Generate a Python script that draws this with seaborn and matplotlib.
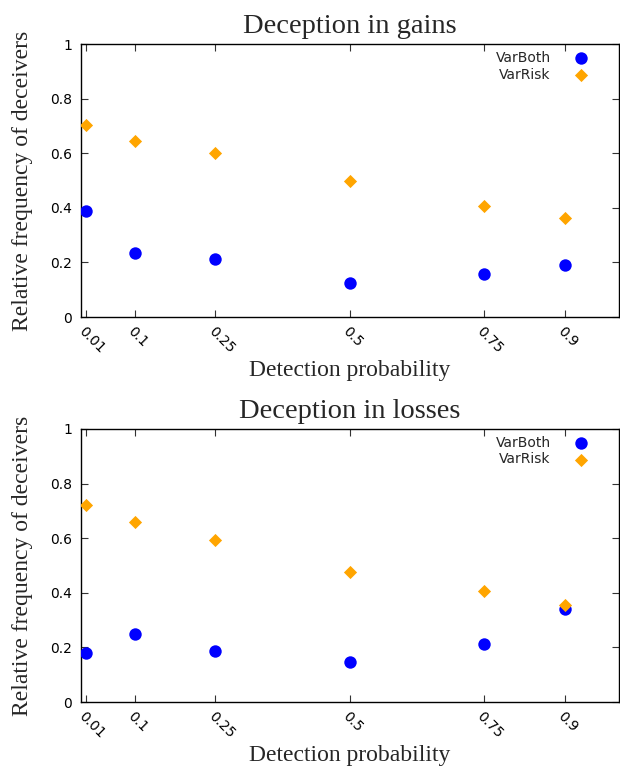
import numpy as np
import pandas as pd
import seaborn as sns
import matplotlib
matplotlib.use("Agg")
import matplotlib.pyplot as plt

# detection probabilities (x) and relative frequency of deceivers
detection = [0.01, 0.1, 0.25, 0.5, 0.75, 0.9]
gains_varboth = [0.387, 0.235, 0.211, 0.125, 0.159, 0.190]
gains_varrisk = [0.702, 0.646, 0.602, 0.500, 0.407, 0.364]
losses_varboth = [0.179, 0.248, 0.187, 0.147, 0.212, 0.342]
losses_varrisk = [0.720, 0.661, 0.592, 0.475, 0.405, 0.357]

tick_labels = ["0.01", "0.1", "0.25", "0.5", "0.75", "0.9"]
titles = ["Deception in gains", "Deception in losses"]

sns.set_style("ticks")
plt.rcParams['font.family'] = ['DejaVu Sans']

palette = {"VarBoth": "#0000ff", "VarRisk": "#ffa500"}
markers = {"VarBoth": "o", "VarRisk": "D"}
sizes = {"VarBoth": 80, "VarRisk": 45}

fig = plt.figure(figsize=(6.2, 7.67), dpi=100)
ax1 = fig.add_axes([0.1306, 0.5867, 0.8674, 0.3559])
ax2 = fig.add_axes([0.1306, 0.0847, 0.8674, 0.3560])

panels = [(ax1, gains_varboth, gains_varrisk), (ax2, losses_varboth, losses_varrisk)]

for (ax, vb, vr), title in zip(panels, titles):
    df = pd.DataFrame({"x": detection, "VarBoth": vb, "VarRisk": vr})
    df = df.melt(id_vars="x", var_name="series", value_name="y")
    for name in ["VarBoth", "VarRisk"]:
        sub = df[df["series"] == name]
        sns.scatterplot(data=sub, x="x", y="y", ax=ax, color=palette[name],
                        marker=markers[name], s=sizes[name], linewidth=0,
                        label=name, zorder=3)

    ax.set_xlim(0, 1)
    ax.set_ylim(0, 1)
    ax.set_xticks(detection)
    ax.set_xticklabels(tick_labels, rotation=-45, ha="left", va="top",
                       rotation_mode="anchor", fontsize=10)
    ax.set_yticks([0, 0.2, 0.4, 0.6, 0.8, 1])
    ax.set_yticklabels(["0", "0.2", "0.4", "0.6", "0.8", "1"], fontsize=10)
    ax.tick_params(direction="in", top=True, right=True, length=5, width=0.8,
                   colors="#333333", labelcolor="black")
    ax.tick_params(axis="y", pad=6.5)
    ax.tick_params(axis="x", pad=5)
    for sp in ax.spines.values():
        sp.set_linewidth(1.0)
        sp.set_color("black")
    ax.set_title(title, family="Liberation Serif", fontsize=20.5, pad=8)
    ax.set_xlabel("Detection probability", family="Liberation Serif", fontsize=17, labelpad=3)
    ax.set_ylabel("Relative frequency of deceivers", family="Liberation Serif", fontsize=17, labelpad=12)
    ax.legend(loc="upper right", frameon=False, markerfirst=False, fontsize=10,
              handletextpad=1.2, borderaxespad=0.3, labelspacing=0.2,
              bbox_to_anchor=(0.974, 1.011))

fig.savefig("out.png", dpi=100)
